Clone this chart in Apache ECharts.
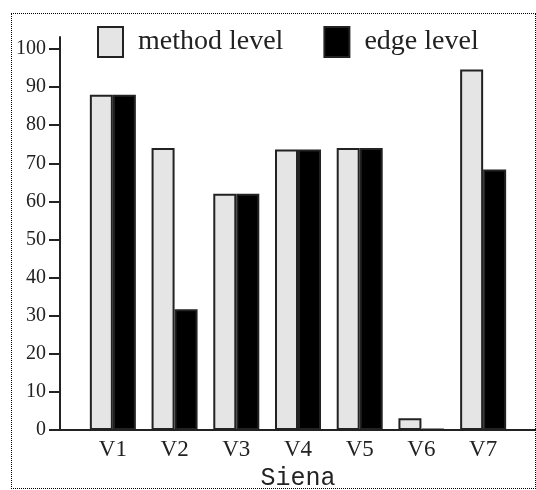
<!DOCTYPE html>
<html>
<head>
<meta charset="utf-8">
<script src="https://cdn.jsdelivr.net/npm/echarts@6/dist/echarts.min.js"></script>
<style>
    html, body { margin: 0; padding: 0; background: #fff; }
    #main { width: 536px; height: 490px; }
    #frame {
        position: absolute; left: 11px; top: 13px; width: 523px; height: 474px;
        border: 1px dotted #000; pointer-events: none;
    }
</style>
</head>
<body>
<div id="main"></div>
<div id="frame"></div>
<script>
var categories = ['V1', 'V2', 'V3', 'V4', 'V5', 'V6', 'V7'];
var methodLevel = [88, 74, 62, 73.6, 74, 3.1, 94.6];
var edgeLevel = [88, 31.7, 62, 73.6, 74, 0.3, 68.4];
var yTicks = { min: 0, max: 100, interval: 10 };

var ink = '#222';
var serif = 'Liberation Serif';

var myChart = echarts.init(document.getElementById('main'));
var option = {
    backgroundColor: '#fff',
    animation: false,
    legend: {
        left: 92,
        top: 21,
        itemWidth: 25,
        itemHeight: 30,
        itemGap: 40,
        icon: 'rect',
        textStyle: {
            fontFamily: serif,
            fontSize: 28,
            color: ink,
            padding: [0, 0, 0, 10]
        },
        data: ['method level', 'edge level']
    },
    grid: [{
        left: 82, right: 22, top: 49, bottom: 60,
        outerBoundsMode: 'none'
    }, {
        // frame for the long axis lines
        left: 60, right: 0, top: 37, bottom: 60,
        outerBoundsMode: 'none'
    }],
    xAxis: [{
        type: 'category',
        gridIndex: 0,
        data: categories,
        axisLine: { show: false },
        axisTick: { show: false },
        axisLabel: {
            margin: 8,
            fontFamily: serif,
            fontSize: 23,
            color: ink
        },
        name: 'Siena',
        nameLocation: 'middle',
        nameGap: 33,
        nameTextStyle: {
            fontFamily: 'Liberation Mono',
            fontSize: 25,
            color: ink
        }
    }, {
        type: 'value',
        gridIndex: 1,
        min: 0, max: 1,
        axisLine: { show: true, lineStyle: { color: ink, width: 2 } },
        axisTick: { show: false },
        axisLabel: { show: false },
        splitLine: { show: false }
    }],
    yAxis: [{
        type: 'value',
        gridIndex: 0,
        min: yTicks.min,
        max: yTicks.max,
        interval: yTicks.interval,
        offset: 22,
        axisLine: { show: false },
        axisTick: { show: true, length: 11, lineStyle: { color: ink, width: 2 } },
        axisLabel: {
            margin: 14,
            fontFamily: serif,
            fontSize: 20,
            color: ink
        },
        splitLine: { show: false }
    }, {
        type: 'value',
        gridIndex: 1,
        min: 0, max: 1,
        axisLine: { show: true, lineStyle: { color: ink, width: 2 } },
        axisTick: { show: false },
        axisLabel: { show: false },
        splitLine: { show: false }
    }],
    series: [{
        name: 'method level',
        type: 'bar',
        xAxisIndex: 0,
        yAxisIndex: 0,
        barWidth: 23,
        barGap: '0%',
        data: methodLevel,
        itemStyle: { color: '#e5e5e5', borderColor: ink, borderWidth: 2 }
    }, {
        name: 'edge level',
        type: 'bar',
        xAxisIndex: 0,
        yAxisIndex: 0,
        barWidth: 23,
        barGap: '0%',
        data: edgeLevel,
        itemStyle: { color: '#000', borderColor: ink, borderWidth: 2 }
    }]
};
myChart.setOption(option);
</script>
</body>
</html>
